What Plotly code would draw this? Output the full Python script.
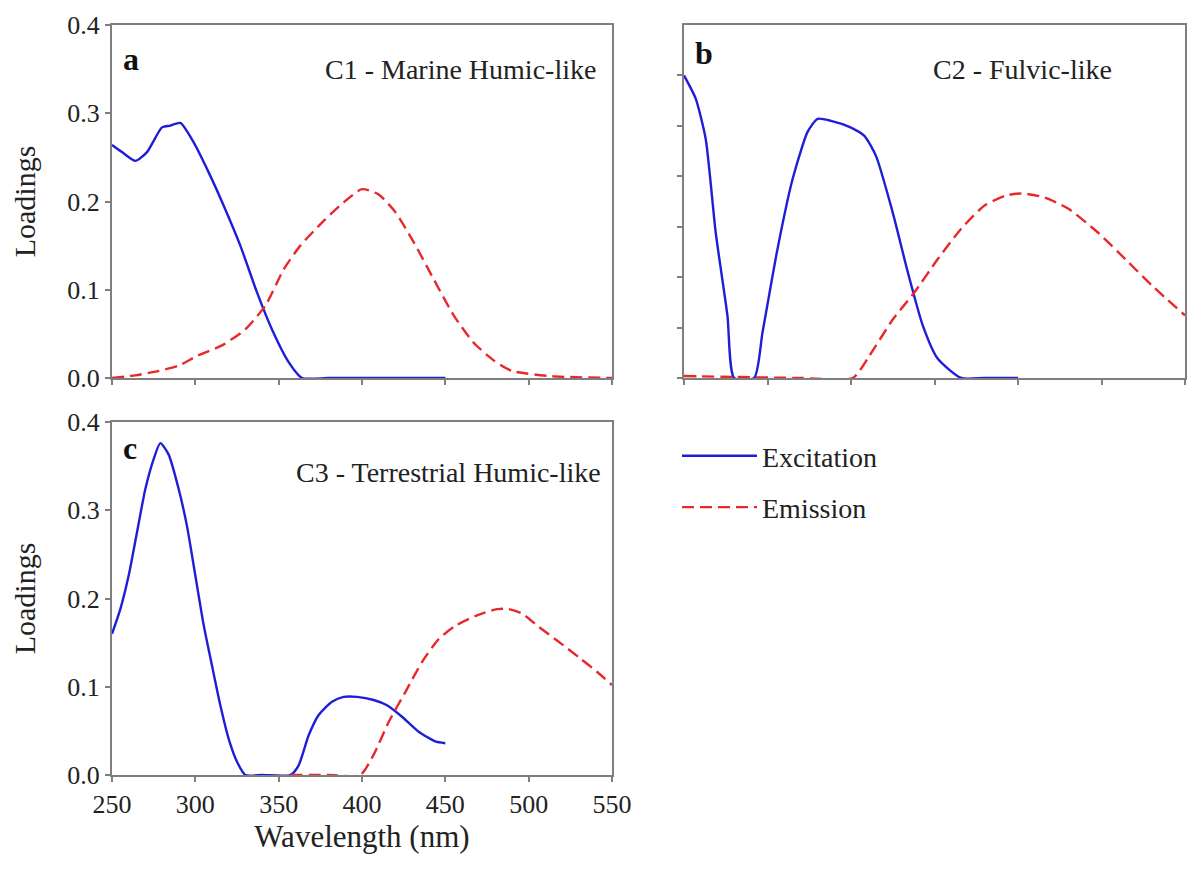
import plotly.graph_objects as go

# ---------------- Data ----------------
# Panel a : C1 - Marine Humic-like
a_ex_x = [250, 256, 264, 271, 280, 285, 291, 299, 308, 318, 327, 337, 346, 356, 364, 380, 400, 420, 450]
a_ex_y = [0.264, 0.256, 0.246, 0.256, 0.284, 0.286, 0.289, 0.267, 0.233, 0.191, 0.150, 0.097, 0.055, 0.018, 0.0, 0.0, 0.0, 0.0, 0.0]
a_em_x = [250, 264, 278, 290, 301, 316, 330, 342, 353, 363, 377, 389, 400, 410, 420, 431, 443, 455, 467, 479, 490, 514, 550]
a_em_y = [0.0, 0.003, 0.008, 0.014, 0.025, 0.037, 0.055, 0.082, 0.123, 0.150, 0.178, 0.199, 0.214, 0.208, 0.188, 0.154, 0.112, 0.071, 0.040, 0.020, 0.008, 0.002, 0.0]

# Panel b : C2 - Fulvic-like (axis 0-0.35, unlabeled ticks every 0.05)
b_ex_x = [250, 257, 263, 269, 276, 280, 292, 297, 306, 315, 324, 330, 338, 349, 358, 365, 375, 384, 393, 402, 416, 430, 450]
b_ex_y = [0.300, 0.277, 0.237, 0.144, 0.062, 0.0, 0.0, 0.045, 0.128, 0.197, 0.244, 0.257, 0.255, 0.249, 0.240, 0.220, 0.164, 0.105, 0.052, 0.019, 0.0, 0.0, 0.0]
b_em_x = [250, 280, 320, 351, 361, 375, 388, 402, 416, 430, 443, 452, 466, 480, 498, 516, 530, 550]
b_em_y = [0.002, 0.001, 0.0, 0.0, 0.022, 0.058, 0.085, 0.118, 0.148, 0.171, 0.181, 0.183, 0.179, 0.168, 0.144, 0.115, 0.092, 0.062]

# Panel c : C3 - Terrestrial Humic-like
c_ex_x = [250, 255, 260, 265, 270, 275, 279, 284, 290, 295, 300, 305, 310, 315, 320, 325, 330, 340, 357, 362, 368, 374, 382, 389, 397, 407, 415, 424, 434, 444, 450]
c_ex_y = [0.160, 0.188, 0.226, 0.275, 0.324, 0.358, 0.376, 0.363, 0.324, 0.282, 0.226, 0.170, 0.124, 0.079, 0.041, 0.015, 0.0, 0.0, 0.0, 0.011, 0.045, 0.068, 0.083, 0.0885, 0.0885, 0.085, 0.079, 0.066, 0.049, 0.038, 0.036]
c_em_x = [357, 380, 399, 407, 416, 426, 436, 446, 456, 469, 481, 488, 496, 506, 518, 531, 541, 550]
c_em_y = [0.0, 0.0, 0.0, 0.023, 0.060, 0.094, 0.128, 0.154, 0.169, 0.181, 0.188, 0.188, 0.183, 0.168, 0.151, 0.132, 0.117, 0.102]

x_ticks = [250, 300, 350, 400, 450, 500, 550]
y_ticks = [0.0, 0.1, 0.2, 0.3, 0.4]
y_ticks_b = [0.0, 0.05, 0.10, 0.15, 0.20, 0.25, 0.30]

panel_letters = ["a", "b", "c"]
panel_titles = ["C1 - Marine Humic-like", "C2 - Fulvic-like", "C3 - Terrestrial Humic-like"]
series_names = ["Excitation", "Emission"]

# ---------------- Style ----------------
FONT = "Liberation Serif"
BLUE = "#1e1ed8"
RED = "#e8282a"
AX = "#7f7f7f"
TXT = "#222222"
W, H = 1202, 872
OFF = 8  # page body margin offset

def px_x(p):
    return (p - OFF) / W

def px_y(p):
    return 1 - (p - OFF) / H

fig = go.Figure()

ex_style = dict(color=BLUE, width=2.4, shape="spline", smoothing=0.6)
em_style = dict(color=RED, width=2.4, dash="12px,6px", shape="spline", smoothing=0.6)

panels = [
    ("x", "y", a_ex_x, a_ex_y, a_em_x, a_em_y),
    ("x2", "y2", b_ex_x, b_ex_y, b_em_x, b_em_y),
    ("x3", "y3", c_ex_x, c_ex_y, c_em_x, c_em_y),
]
for i, (xa, ya, ex_x, ex_y, em_x, em_y) in enumerate(panels):
    fig.add_trace(go.Scatter(x=ex_x, y=ex_y, mode="lines", line=ex_style, name=series_names[0],
                             xaxis=xa, yaxis=ya, showlegend=(i == 0), legendrank=1, legendgroup="ex"))
    fig.add_trace(go.Scatter(x=em_x, y=em_y, mode="lines", line=em_style, name=series_names[1],
                             xaxis=xa, yaxis=ya, showlegend=(i == 0), legendrank=2, legendgroup="em"))

tick_font = dict(family=FONT, size=26, color=TXT)
common_x = dict(range=[250, 550], tickvals=x_ticks, ticks="outside", ticklen=5, tickcolor=AX, tickwidth=1.5,
                showline=True, linecolor=AX, linewidth=2, mirror=True, showgrid=False, zeroline=False,
                automargin=False, tickfont=tick_font)
common_y = dict(ticks="outside", ticklen=5, tickcolor=AX, tickwidth=1.5,
                showline=True, linecolor=AX, linewidth=2, mirror=True, showgrid=False, zeroline=False,
                automargin=False, tickfont=tick_font)

left_dom = [px_x(112), px_x(612)]
right_dom = [px_x(684), px_x(1185)]
top_dom = [px_y(378), px_y(25)]
bot_dom = [px_y(775), px_y(422)]

title_font = dict(family=FONT, size=30, color=TXT)

fig.update_layout(
    width=W, height=H,
    margin=dict(l=0, r=0, t=0, b=0),
    paper_bgcolor="white", plot_bgcolor="white",
    showlegend=True,
    legend=dict(x=px_x(677), y=px_y(431), xanchor="left", yanchor="top",
                font=dict(family=FONT, size=28, color=TXT), bgcolor="rgba(0,0,0,0)",
                itemwidth=75, tracegroupgap=12),
    xaxis=dict(domain=left_dom, anchor="y", showticklabels=False, **common_x),
    yaxis=dict(domain=top_dom, anchor="x", range=[0, 0.4], tickvals=y_ticks, tickformat=".1f",
               title=dict(text="Loadings", font=title_font, standoff=30), **common_y),
    xaxis2=dict(domain=right_dom, anchor="y2", showticklabels=False, **common_x),
    yaxis2=dict(domain=top_dom, anchor="x2", range=[0, 0.35], tickvals=y_ticks_b, showticklabels=False, **common_y),
    xaxis3=dict(domain=left_dom, anchor="y3",
                title=dict(text="Wavelength (nm)", font=dict(family=FONT, size=31, color=TXT), standoff=0),
                **common_x),
    yaxis3=dict(domain=bot_dom, anchor="x3", range=[0, 0.4], tickvals=y_ticks, tickformat=".1f",
                title=dict(text="Loadings", font=title_font, standoff=30), **common_y),
)

refs = [("x domain", "y domain"), ("x2 domain", "y2 domain"), ("x3 domain", "y3 domain")]
letter_pos = [(0.018, 0.905), (0.018, 0.92), (0.018, 0.925)]
title_pos = [(0.972, 0.873), (0.858, 0.873), (0.982, 0.858)]
for i, (xr, yr) in enumerate(refs):
    fig.add_annotation(xref=xr, yref=yr, x=letter_pos[i][0], y=letter_pos[i][1],
                       xanchor="left", yanchor="middle",
                       text="<b>" + panel_letters[i] + "</b>", showarrow=False,
                       font=dict(family=FONT, size=32, color="#111"))
    fig.add_annotation(xref=xr, yref=yr, x=title_pos[i][0], y=title_pos[i][1],
                       xanchor="right", yanchor="middle",
                       text=panel_titles[i], showarrow=False,
                       font=dict(family=FONT, size=28, color=TXT))

fig.write_html("out.html")
